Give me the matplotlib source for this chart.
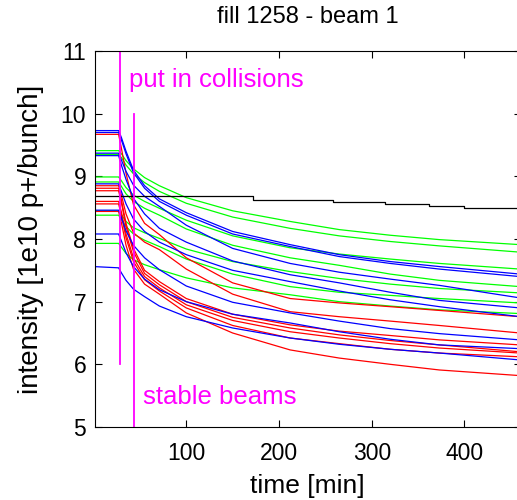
import matplotlib
matplotlib.use("Agg")
import matplotlib.pyplot as plt

plt.rcParams['font.family'] = ['Liberation Sans', 'DejaVu Sans']

T = [0, 27, 30, 35, 43, 55, 71, 100, 150, 212, 265, 320, 373, 460]

# green bunches
G1 = [9.41, 9.41, 9.36, 9.25, 9.12, 8.98, 8.85, 8.66, 8.45, 8.28, 8.15, 8.06, 7.99, 7.91]
G2 = [9.35, 9.35, 9.30, 9.18, 9.04, 8.90, 8.76, 8.57, 8.35, 8.17, 8.05, 7.96, 7.89, 7.79]
G3 = [8.99, 8.99, 8.93, 8.82, 8.70, 8.60, 8.49, 8.30, 8.05, 7.86, 7.76, 7.68, 7.61, 7.52]
G4 = [8.91, 8.91, 8.84, 8.72, 8.60, 8.49, 8.38, 8.16, 7.90, 7.70, 7.58, 7.44, 7.34, 7.24]
G5 = [8.45, 8.45, 8.39, 8.28, 8.18, 8.10, 8.01, 7.84, 7.64, 7.48, 7.37, 7.28, 7.21, 7.14]
G6 = [8.38, 8.38, 8.31, 8.20, 8.08, 7.98, 7.88, 7.68, 7.44, 7.24, 7.15, 7.10, 7.05, 6.98]
G7 = [7.93, 7.93, 7.87, 7.77, 7.67, 7.59, 7.51, 7.38, 7.22, 7.11, 7.00, 6.93, 6.87, 6.81]

# blue bunches
B1 = [9.73, 9.73, 9.62, 9.40, 9.10, 8.85, 8.64, 8.42, 8.12, 7.91, 7.75, 7.64, 7.56, 7.44]
B2 = [9.70, 9.70, 9.58, 9.36, 9.06, 8.81, 8.60, 8.38, 8.08, 7.88, 7.72, 7.61, 7.52, 7.40]
B3 = [9.37, 9.37, 9.26, 9.08, 8.86, 8.68, 8.52, 8.22, 7.85, 7.61, 7.47, 7.36, 7.26, 7.06]
B4 = [9.33, 9.33, 9.18, 8.95, 8.65, 8.40, 8.17, 7.95, 7.65, 7.43, 7.30, 7.15, 7.02, 6.90]
B5 = [8.88, 8.88, 8.76, 8.56, 8.32, 8.12, 7.95, 7.75, 7.50, 7.32, 7.17, 7.03, 6.92, 6.76]
B6 = [8.46, 8.46, 8.34, 8.13, 7.90, 7.70, 7.51, 7.25, 6.99, 6.82, 6.69, 6.57, 6.49, 6.39]
B7 = [8.08, 8.08, 7.97, 7.78, 7.56, 7.36, 7.19, 7.00, 6.80, 6.66, 6.52, 6.40, 6.31, 6.25]
B8 = [7.56, 7.54, 7.46, 7.34, 7.20, 7.08, 6.93, 6.76, 6.58, 6.42, 6.32, 6.24, 6.18, 6.07]

# red bunches
R1 = [9.67, 9.67, 9.45, 9.05, 8.55, 8.25, 8.07, 7.70, 7.30, 7.05, 6.98, 6.92, 6.86, 6.76]
R2 = [8.85, 8.85, 8.70, 8.40, 8.10, 7.95, 7.83, 7.52, 7.12, 6.84, 6.76, 6.69, 6.62, 6.50]
R3 = [8.81, 8.81, 8.62, 8.25, 7.85, 7.50, 7.32, 7.05, 6.80, 6.63, 6.53, 6.46, 6.39, 6.31]
R4 = [8.77, 8.77, 8.58, 8.20, 7.80, 7.45, 7.27, 7.00, 6.75, 6.58, 6.47, 6.38, 6.31, 6.20]
R5 = [8.60, 8.60, 8.43, 8.08, 7.70, 7.40, 7.22, 6.95, 6.70, 6.52, 6.42, 6.33, 6.26, 6.18]
R6 = [8.56, 8.56, 8.38, 8.02, 7.64, 7.35, 7.17, 6.90, 6.62, 6.42, 6.33, 6.24, 6.18, 6.12]
R7 = [8.44, 8.44, 8.26, 7.90, 7.52, 7.28, 7.12, 6.82, 6.50, 6.23, 6.10, 6.00, 5.91, 5.82]

# non-colliding bunch (black), stepwise
T_black = [0, 172, 258, 314, 362, 400, 460]
K1 = [8.69, 8.62, 8.59, 8.56, 8.52, 8.49, 8.49]

# markers
t_collide = 29
t_stable = 43.5

greens = [G1, G2, G3, G4, G5, G6, G7]
blues = [B1, B2, B3, B4, B5, B6, B7, B8]
reds = [R1, R2, R3, R4, R5, R6, R7]

fig = plt.figure(figsize=(5.17, 5.0), dpi=100)
ax = fig.add_axes([94.5 / 517, 1 - 427 / 500, (521 - 94.5) / 517, (427 - 51) / 500])

lw = 0.9
for y in greens:
    ax.plot(T, y, color="#00ff00", lw=lw)
for y in reds:
    ax.plot(T, y, color="#ff0000", lw=lw)
for y in blues:
    ax.plot(T, y, color="#0000ff", lw=lw)
ax.plot(T_black, K1, color="black", lw=lw, drawstyle="steps-post")

ax.plot([t_collide, t_collide], [6, 11], color="#ff00ff", lw=1.3)
ax.plot([t_stable, t_stable], [5, 10], color="#ff00ff", lw=1.3)
ax.text(38, 10.54, "put in collisions", color="#ff00ff", fontsize=18.5,
        va="center", ha="left")
ax.text(53, 5.48, "stable beams", color="#ff00ff", fontsize=18.5,
        va="center", ha="left")

ax.set_xlim(1, 461)
ax.set_ylim(5, 11)
ax.set_xticks([100, 200, 300, 400])
ax.set_yticks([5, 6, 7, 8, 9, 10, 11])
ax.tick_params(direction="in", top=True, right=True, labelsize=16.5,
               length=5, width=0.8, pad=6)
ax.tick_params(axis="x", pad=11)
for s in ax.spines.values():
    s.set_linewidth(0.8)

ax.set_xlabel("time [min]", fontsize=19, labelpad=6)
ax.set_ylabel("intensity [1e10 p+/bunch]", fontsize=20, labelpad=12)
fig.text(307.5 / 517, 1 - 17 / 500, "fill 1258 - beam 1", fontsize=17,
         ha="center", va="center")

fig.savefig("out.png", dpi=100)
